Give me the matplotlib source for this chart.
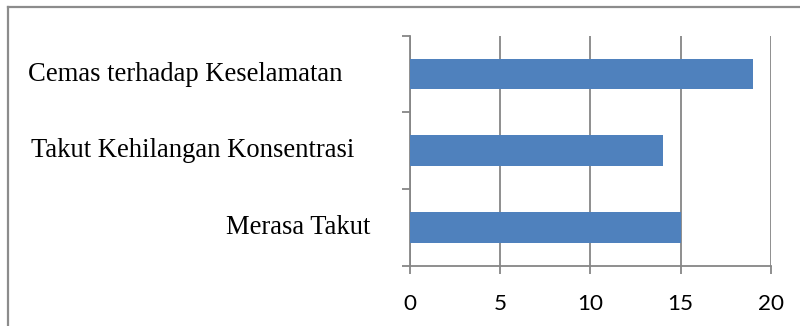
import matplotlib
matplotlib.use("Agg")
import matplotlib.pyplot as plt
from matplotlib.lines import Line2D
from matplotlib.transforms import blended_transform_factory

categories = ["Merasa Takut", "Takut Kehilangan Konsentrasi", "Cemas terhadap Keselamatan"]
values = [15, 14, 19]
x_ticks = [0, 5, 10, 15, 20]

W, H = 800, 326
fig = plt.figure(figsize=(W / 100, H / 100), dpi=100)
ax = fig.add_axes([410 / W, 1 - 266 / H, (771 - 410) / W, (266 - 35.7) / H])

grid_col = "#868686"
ypos = list(range(len(categories)))
ax.barh(ypos, values, height=0.4, color="#4F81BD", zorder=3)
ax.set_xlim(0, 20)
ax.set_ylim(-0.5, len(categories) - 0.5)
ax.set_xticks(x_ticks)
ax.set_xticklabels([str(t) for t in x_ticks], fontfamily="Lato", fontsize=16.2)
ax.set_yticks([-0.5 + i for i in range(len(categories) + 1)])
ax.set_yticklabels([])
ax.tick_params(axis="x", length=6, width=1.3, color=grid_col, pad=14)
ax.tick_params(axis="y", length=6, width=1.3, color=grid_col)
ax.grid(axis="x", color=grid_col, linewidth=1.3, zorder=0)
for s in ["top", "right"]:
    ax.spines[s].set_visible(False)
for s in ["left", "bottom"]:
    ax.spines[s].set_color(grid_col)
    ax.spines[s].set_linewidth(1.3)

# category labels (right edges in pixels, as in the reference)
right_px = [370, 354, 342]
for i, (lab, rp) in enumerate(zip(categories, right_px)):
    tr = blended_transform_factory(fig.transFigure, ax.transData)
    ax.text(rp / W, i, lab, transform=tr, ha="right", va="center",
            fontfamily="Liberation Serif", fontsize=19.2, color="black")

# outer border (left and top)
fig.add_artist(Line2D([8 / W, 8 / W], [0, 1 - 6.5 / H], transform=fig.transFigure,
                      color="#8c8c8c", linewidth=1.6))
fig.add_artist(Line2D([8 / W, 1], [1 - 6.5 / H, 1 - 6.5 / H], transform=fig.transFigure,
                      color="#8c8c8c", linewidth=1.6))

fig.savefig("out.png", dpi=100)
